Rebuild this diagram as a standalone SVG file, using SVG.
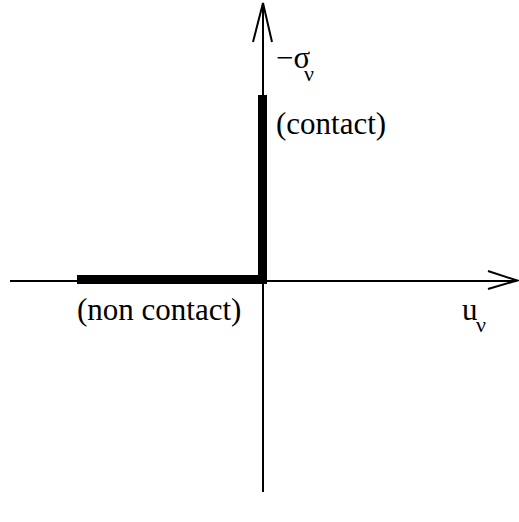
<svg xmlns="http://www.w3.org/2000/svg" width="519" height="522" viewBox="0 0 519 522">
<style>
.ax{stroke:#000;stroke-width:2;fill:none}
.thick{stroke:#000;stroke-width:9;fill:none;stroke-linejoin:miter}
text{font-family:'Liberation Serif','DejaVu Serif',serif;fill:#000}
.t{font-size:31px}
.s{font-size:22px}
</style>
<rect width="519" height="522" fill="#fff"/>
<g id="connectors">
<line class="ax" x1="263" y1="492" x2="263" y2="3"/>
<polyline class="ax" points="253,42 263,3 272,42"/>
<line class="ax" x1="10" y1="281" x2="517" y2="281"/>
<polyline class="ax" points="488,271 517,280.5 488,289"/>
<polyline class="thick" points="77,279.5 262.5,279.5 262.5,95"/>
</g>
<g id="label-sigma">
<text class="t" x="276" y="68">−σ</text>
<text class="s" x="304" y="81">ν</text>
</g>
<g id="label-contact"><text class="t" x="276" y="134">(contact)</text></g>
<g id="label-noncontact"><text class="t" x="77" y="320">(non contact)</text></g>
<g id="label-u">
<text class="t" x="462" y="320">u</text>
<text class="s" x="476" y="332">ν</text>
</g>
</svg>
